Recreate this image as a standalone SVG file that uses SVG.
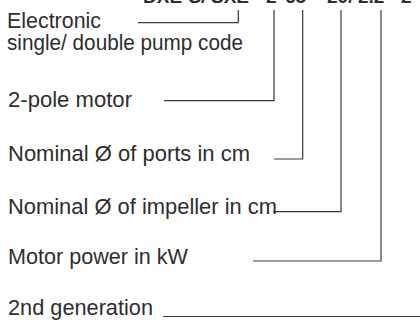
<svg xmlns="http://www.w3.org/2000/svg" width="420" height="324" viewBox="0 0 420 324">
<style>
.lbl{font-family:"Liberation Sans",Arial,sans-serif;font-size:21.5px;fill:#2e2e2e}
.code{font-family:"Liberation Sans",Arial,sans-serif;font-size:19px;font-weight:bold;fill:#2e2e2e}
.c{fill:none;stroke:#3a3a3a;stroke-width:1.2}
</style>
<rect width="420" height="324" fill="#ffffff"/>
<g id="code">
<text class="code" y="3"><tspan x="143">DXE-S/</tspan><tspan x="211">SXE-</tspan><tspan x="266">2-</tspan><tspan x="285">65-</tspan><tspan x="327">20/</tspan><tspan x="358">2.2-</tspan><tspan x="401">2</tspan></text>
</g>
<g id="n-electronic">
<text class="lbl" x="7" y="27.5" textLength="94" lengthAdjust="spacingAndGlyphs">Electronic</text>
<text class="lbl" x="7" y="50" textLength="236" lengthAdjust="spacingAndGlyphs">single/ double pump code</text>
</g>
<g id="n-pole">
<text class="lbl" x="8" y="107" textLength="124" lengthAdjust="spacingAndGlyphs">2-pole motor</text>
</g>
<g id="n-ports">
<text class="lbl" x="8" y="160.5" textLength="242" lengthAdjust="spacingAndGlyphs">Nominal Ø of ports in cm</text>
</g>
<g id="n-impeller">
<text class="lbl" x="8" y="213.5" textLength="269" lengthAdjust="spacingAndGlyphs">Nominal Ø of impeller in cm</text>
</g>
<g id="n-power">
<text class="lbl" x="8" y="264" textLength="180" lengthAdjust="spacingAndGlyphs">Motor power in kW</text>
</g>
<g id="n-gen">
<text class="lbl" x="8" y="315" textLength="145" lengthAdjust="spacingAndGlyphs">2nd generation</text>
</g>
<g id="connectors">
<polyline class="c" points="138,22.7 238.3,22.7 238.3,10"/>
<polyline class="c" points="164,100.7 274,100.7 274,10"/>
<polyline class="c" points="274,159 302.7,159 302.7,10"/>
<polyline class="c" points="273,211.7 341,211.7 341,10"/>
<polyline class="c" points="253,261 381,261 381,10"/>
<polyline class="c" points="163,316.5 420,316.5"/>
</g>
</svg>
